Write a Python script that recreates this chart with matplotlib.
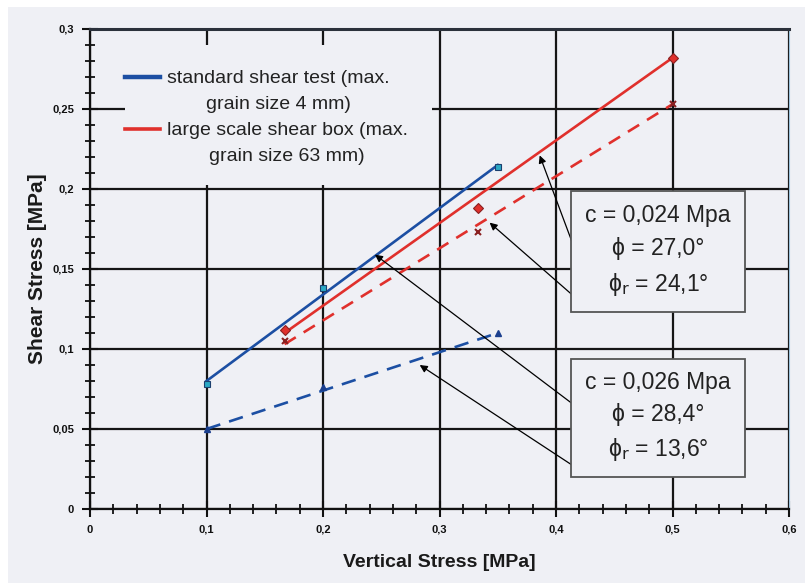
import matplotlib
matplotlib.use('Agg')
import matplotlib.pyplot as plt
from matplotlib.lines import Line2D
from matplotlib.patches import Rectangle

plt.rcParams['font.family'] = ['Liberation Sans', 'DejaVu Sans']

BG = '#eff0f5'
BLUE = '#1c4fa3'
RED = '#e0302c'

# standard shear test (max. grain size 4 mm)
vs_std = [0.1, 0.2, 0.35]
tau_std_peak = [0.078, 0.138, 0.214]
tau_std_res = [0.050, 0.076, 0.110]
fit_std_x = [0.1, 0.35]
fit_std_peak = [0.080, 0.215]
fit_std_res = [0.050, 0.110]

# large scale shear box (max. grain size 63 mm)
vs_large = [0.167, 0.333, 0.5]
tau_large_peak = [0.112, 0.188, 0.282]
tau_large_res = [0.105, 0.173, 0.253]
fit_large_x = [0.167, 0.5]
fit_large_peak = [0.110, 0.282]
fit_large_res = [0.103, 0.253]

x_ticks = [0, 0.1, 0.2, 0.3, 0.4, 0.5, 0.6]
x_tick_labels = ['0', '0,1', '0,2', '0,3', '0,4', '0,5', '0,6']
y_ticks = [0, 0.05, 0.1, 0.15, 0.2, 0.25, 0.3]
y_tick_labels = ['0', '0,05', '0,1', '0,15', '0,2', '0,25', '0,3']

legend_labels = ['standard shear test (max.\ngrain size 4 mm)',
                 'large scale shear box (max.\ngrain size 63 mm)']
text_large = 'c = 0,024 Mpa\nϕ = 27,0°\nϕ$_\\mathrm{r}$ = 24,1°'
text_std = 'c = 0,026 Mpa\nϕ = 28,4°\nϕ$_\\mathrm{r}$ = 13,6°'

fig = plt.figure(figsize=(8.05, 5.83), dpi=100, facecolor='white')
fig.patches.append(Rectangle((8 / 805, 0), 1, 576 / 583, transform=fig.transFigure,
                             facecolor=BG, edgecolor='none', zorder=-10))
ax = fig.add_axes([90 / 805, 74 / 583, 699 / 805, 480 / 583])
ax.set_facecolor(BG)
ax.set_axisbelow(True)

# fitted lines
ax.plot(fit_std_x, fit_std_peak, color=BLUE, lw=1.9, zorder=3)
ax.plot(fit_std_x, fit_std_res, color=BLUE, lw=1.9, dashes=(5.5, 3.5), zorder=3)
ax.plot(fit_large_x, fit_large_peak, color=RED, lw=1.9, zorder=3)
ax.plot(fit_large_x, fit_large_res, color=RED, lw=1.9, dashes=(5, 3.5), zorder=3)

# measured points
ax.plot(vs_std, tau_std_peak, 's', ms=5, mfc='#2aa8c4', mec='#1b3f6e', mew=0.8, zorder=4)
ax.plot(vs_std, tau_std_res, '^', ms=5, mfc='#1b3f8e', mec='#1b3f8e', zorder=4)
ax.plot(vs_large, tau_large_peak, 'D', ms=5, mfc=RED, mec='#8a2020', mew=0.8, zorder=4)
ax.plot(vs_large, tau_large_res, 'x', ms=5, mec='#8a2020', mew=1.5, zorder=4)

ax.set_xlim(0, 0.6)
ax.set_ylim(0, 0.3)
ax.set_xticks(x_ticks, labels=x_tick_labels, fontsize=8, fontweight='bold')
ax.set_yticks(y_ticks, labels=y_tick_labels, fontsize=8, fontweight='bold')
ax.set_xticks([i * 0.02 for i in range(31)], minor=True)
ax.set_yticks([i * 0.01 for i in range(31)], minor=True)
ax.tick_params(which='major', direction='inout', length=11, width=1.5, pad=6, colors='#111111')
ax.tick_params(which='minor', direction='inout', length=7, width=1.3, colors='#111111')
ax.grid(True, which='major', color='#151515', lw=1.6)

for s in ['left', 'bottom']:
    ax.spines[s].set_linewidth(1.6)
    ax.spines[s].set_color('#111111')
ax.spines['top'].set_linewidth(2.2)
ax.spines['top'].set_color('#2b313b')
ax.spines['right'].set_linewidth(0.8)
ax.spines['right'].set_color('#9cc3dd')

ax.set_xlabel('Vertical Stress [MPa]', fontsize=14, fontweight='bold', labelpad=14,
              color='#1a1a1a')
ax.set_ylabel('Shear Stress [MPa]', fontsize=15, fontweight='bold', labelpad=4,
              color='#1a1a1a')

# legend area hides the grid
ax.add_patch(Rectangle((0.05, 0.675), 0.439, 0.292, transform=ax.transAxes,
                       facecolor=BG, edgecolor='none', zorder=1))
handles = [Line2D([], [], color=BLUE, lw=3.2), Line2D([], [], color=RED, lw=2.6)]
leg = ax.legend(handles, legend_labels, loc='upper left', bbox_to_anchor=(0.05, 0.914),
                frameon=False, fontsize=14, handlelength=1.8, handletextpad=0.35,
                borderpad=0, borderaxespad=0, labelspacing=0.5)
for t in leg.get_texts():
    t.set_multialignment('center')
    t.set_linespacing(1.65)
    t.set_color('#222222')
# put the handle level with the first line of its label
for h in leg.legend_handles:
    h.set_ydata([y + 10 for y in h.get_ydata()])

box = dict(boxstyle='square,pad=0.62', facecolor=BG, edgecolor='#555555', lw=1.3)
ax.text(0.4876, 0.1615, text_large, ha='center', va='center', fontsize=16.5,
        multialignment='center', linespacing=1.55, bbox=box, zorder=6, color='#222222')
ax.text(0.4876, 0.0575, text_std, ha='center', va='center', fontsize=16.5,
        multialignment='center', linespacing=1.5, bbox=box, zorder=6, color='#222222')

arrow = dict(arrowstyle='-|>', color='black', lw=0.9, mutation_scale=11, shrinkA=0, shrinkB=0)
ax.annotate('', xy=(0.386, 0.221), xytext=(0.4137, 0.167), arrowprops=arrow, zorder=5)
ax.annotate('', xy=(0.343, 0.179), xytext=(0.4137, 0.134), arrowprops=arrow, zorder=5)
ax.annotate('', xy=(0.2446, 0.159), xytext=(0.4137, 0.066), arrowprops=arrow, zorder=5)
ax.annotate('', xy=(0.283, 0.090), xytext=(0.4137, 0.0275), arrowprops=arrow, zorder=5)

fig.savefig('out.png', dpi=100, facecolor=fig.get_facecolor())
